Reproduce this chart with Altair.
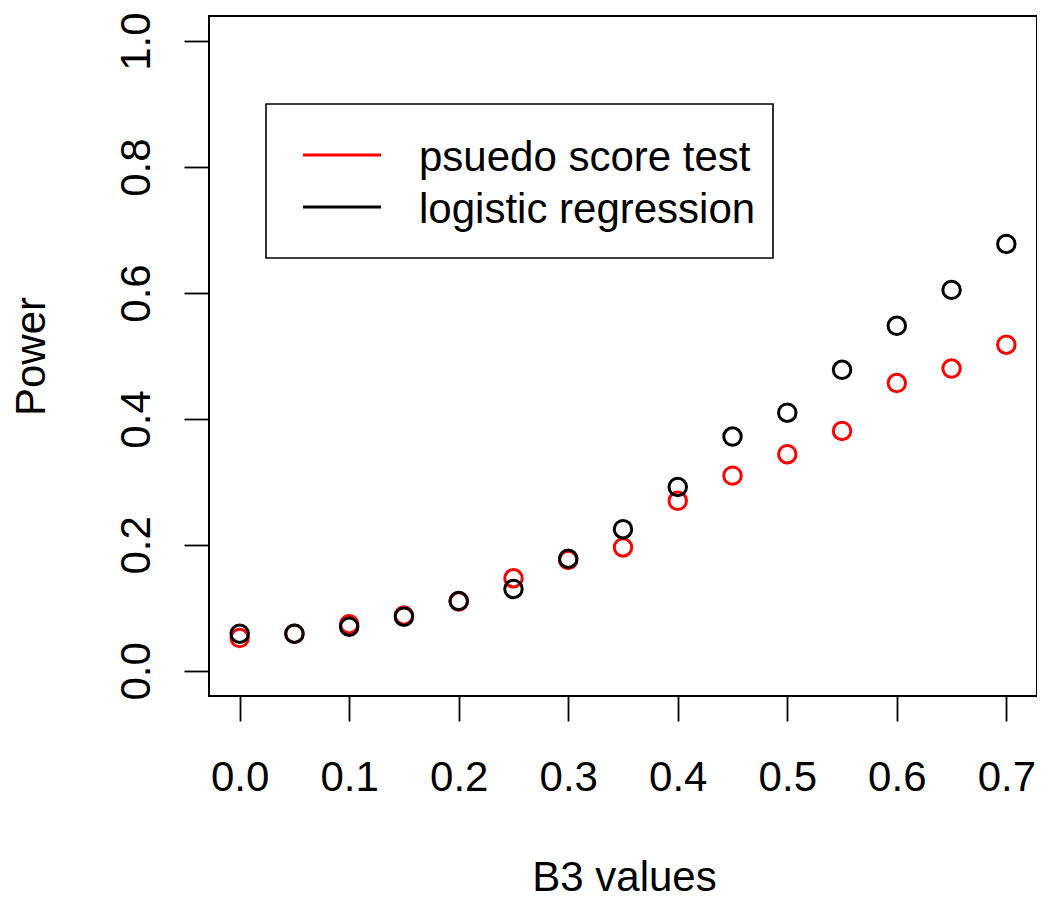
import altair as alt
import pandas as pd

b3 = [0.0, 0.05, 0.10, 0.15, 0.20, 0.25, 0.30, 0.35, 0.40, 0.45, 0.50, 0.55, 0.60, 0.65, 0.70]
pseudo_score = [0.052, 0.059, 0.074, 0.088, 0.110, 0.147, 0.176, 0.196, 0.270, 0.310, 0.344, 0.381, 0.457, 0.480, 0.518]
logistic = [0.059, 0.059, 0.070, 0.086, 0.111, 0.130, 0.178, 0.225, 0.292, 0.372, 0.410, 0.478, 0.548, 0.605, 0.678]
series_names = ["psuedo score test", "logistic regression"]
series_colors = ["#FF0000", "#000000"]
x_ticks = [0.0, 0.1, 0.2, 0.3, 0.4, 0.5, 0.6, 0.7]
y_ticks = [0.0, 0.2, 0.4, 0.6, 0.8, 1.0]

rows = []
for name, vals in zip(series_names, [pseudo_score, logistic]):
    for xv, yv in zip(b3, vals):
        rows.append({"B3": xv, "Power": yv, "series": name})
df = pd.DataFrame(rows)

FONT = "Liberation Sans"

points = alt.Chart(df).mark_point(
    shape="circle", filled=False, size=305, strokeWidth=3, opacity=1
).encode(
    x=alt.X("B3:Q", scale=alt.Scale(domain=[-0.028, 0.728], nice=False, zero=False),
            axis=alt.Axis(values=x_ticks, format=".1f", title="B3 values",
                          tickSize=25, tickWidth=1.8, tickColor="black",
                          labelPadding=69, labelBaseline="alphabetic", labelAlign="center",
                          labelFontSize=42, labelFont=FONT, labelColor="black",
                          domain=False, grid=False,
                          titleFont=FONT, titleFontSize=42, titleFontWeight="normal",
                          titleColor="black", titleX=415, titleY=194,
                          titleBaseline="alphabetic", titleAlign="center")),
    y=alt.Y("Power:Q", scale=alt.Scale(domain=[-0.04, 1.04], nice=False, zero=False),
            axis=alt.Axis(values=y_ticks, format=".1f", title="Power",
                          tickSize=25, tickWidth=1.8, tickColor="black",
                          labelAngle=270, labelAlign="center", labelBaseline="alphabetic",
                          labelPadding=35, labelFontSize=42, labelFont=FONT, labelColor="black",
                          domain=False, grid=False,
                          titleFont=FONT, titleFontSize=42, titleFontWeight="normal",
                          titleColor="black", titleAngle=270, titleX=-165, titleY=340,
                          titleBaseline="alphabetic", titleAlign="center")),
    color=alt.Color("series:N", scale=alt.Scale(domain=series_names, range=series_colors), legend=None),
)

layers = [points]

# legend box
legend_box = alt.Chart(pd.DataFrame({"k": [0]})).mark_rect(
    fill="white", fillOpacity=0, stroke="black", strokeWidth=1.6
).encode(x=alt.value(57), x2=alt.value(564), y=alt.value(88), y2=alt.value(242))
layers.append(legend_box)

line_y = [139, 191]
text_y = [155, 207]
for name, col, ly, ty in zip(series_names, series_colors, line_y, text_y):
    ldf = pd.DataFrame({"label": [name]})
    layers.append(
        alt.Chart(ldf).mark_rule(color=col, strokeWidth=3.2).encode(
            x=alt.value(94), x2=alt.value(172), y=alt.value(ly))
    )
    layers.append(
        alt.Chart(ldf).mark_text(align="left", baseline="alphabetic", font=FONT,
                                 fontSize=42, color="black").encode(
            x=alt.value(210), y=alt.value(ty), text="label:N")
    )

chart = alt.layer(*layers).properties(
    width=828, height=680,
    autosize=alt.AutoSizeParams(type="none"),
    padding={"left": 201, "top": 8, "right": 0, "bottom": 195},
    background="white",
).configure_view(stroke="black", strokeWidth=2)

chart.save("out.html", embed_options={"renderer": "svg", "actions": False})
